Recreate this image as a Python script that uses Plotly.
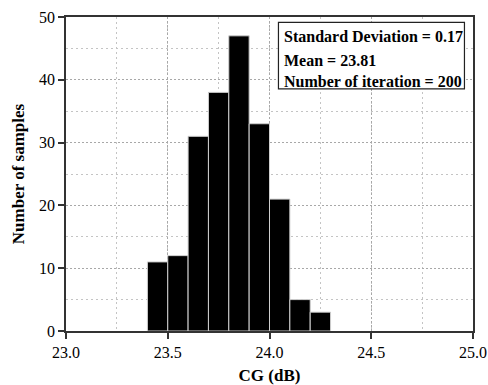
import plotly.graph_objects as go

bin_left = [23.4, 23.5, 23.6, 23.7, 23.8, 23.9, 24.0, 24.1, 24.2]
counts = [11, 12, 31, 38, 47, 33, 21, 5, 3]
bin_width = 0.1
x_ticks = [23.0, 23.5, 24.0, 24.5, 25.0]
x_tick_labels = ["23.0", "23.5", "24.0", "24.5", "25.0"]
stats_lines = ["Standard Deviation = 0.17", "Mean = 23.81", "Number of iteration = 200"]

centers = [b + bin_width / 2 for b in bin_left]

fig = go.Figure(go.Bar(
    x=centers, y=counts, width=bin_width,
    marker=dict(color="black", line=dict(color="#cfcfcf", width=1)),
))

serif = "Times New Roman, Liberation Serif, Tinos, DejaVu Serif, serif"
fig.update_layout(
    width=488, height=385,
    margin=dict(l=65.5, r=15, t=17, b=54, autoexpand=False),
    paper_bgcolor="white", plot_bgcolor="white",
    showlegend=False,
    font=dict(family=serif, size=16, color="black"),
)
fig.update_xaxes(
    range=[23.0, 25.0], tickvals=x_ticks, ticktext=x_tick_labels,
    ticks="outside", ticklen=6, tickcolor="#333", tickwidth=1.5,
    showline=True, linecolor="#333", linewidth=1.5, mirror=True,
    showgrid=True, gridcolor="#a8a8a8", griddash="2px,2px", gridwidth=1,
    minor=dict(dtick=0.25, tick0=23.0, showgrid=True, gridcolor="#c4c4c4", griddash="2px,3px", ticks=""),
    tickfont=dict(family=serif, size=16),
    title=dict(text="<b>CG (dB)</b>", font=dict(family=serif, size=17), standoff=10),
    zeroline=False, automargin=False,
)
fig.update_yaxes(
    range=[0, 50], dtick=10,
    ticks="outside", ticklen=6, tickcolor="#333", tickwidth=1.5,
    showline=True, linecolor="#333", linewidth=1.5, mirror=True,
    showgrid=True, gridcolor="#a8a8a8", griddash="2px,2px", gridwidth=1,
    minor=dict(dtick=5, showgrid=True, gridcolor="#c4c4c4", griddash="2px,3px", ticks=""),
    tickfont=dict(family=serif, size=16),
    title=dict(text="<b>Number of samples</b>", font=dict(family=serif, size=17), standoff=10),
    zeroline=False, automargin=False,
)

fig.add_shape(type="rect", xref="paper", yref="paper",
              x0=0.522, x1=0.979, y0=0.771, y1=0.983,
              line=dict(color="#222", width=1.2), fillcolor="white", layer="above")
ys = [0.937, 0.863, 0.794]
for t, yy in zip(stats_lines, ys):
    fig.add_annotation(xref="paper", yref="paper", x=0.530, y=yy,
                       xanchor="left", yanchor="middle", showarrow=False,
                       text="<b>" + t + "</b>", font=dict(family=serif, size=16, color="black"))

fig.write_html("out.html")
